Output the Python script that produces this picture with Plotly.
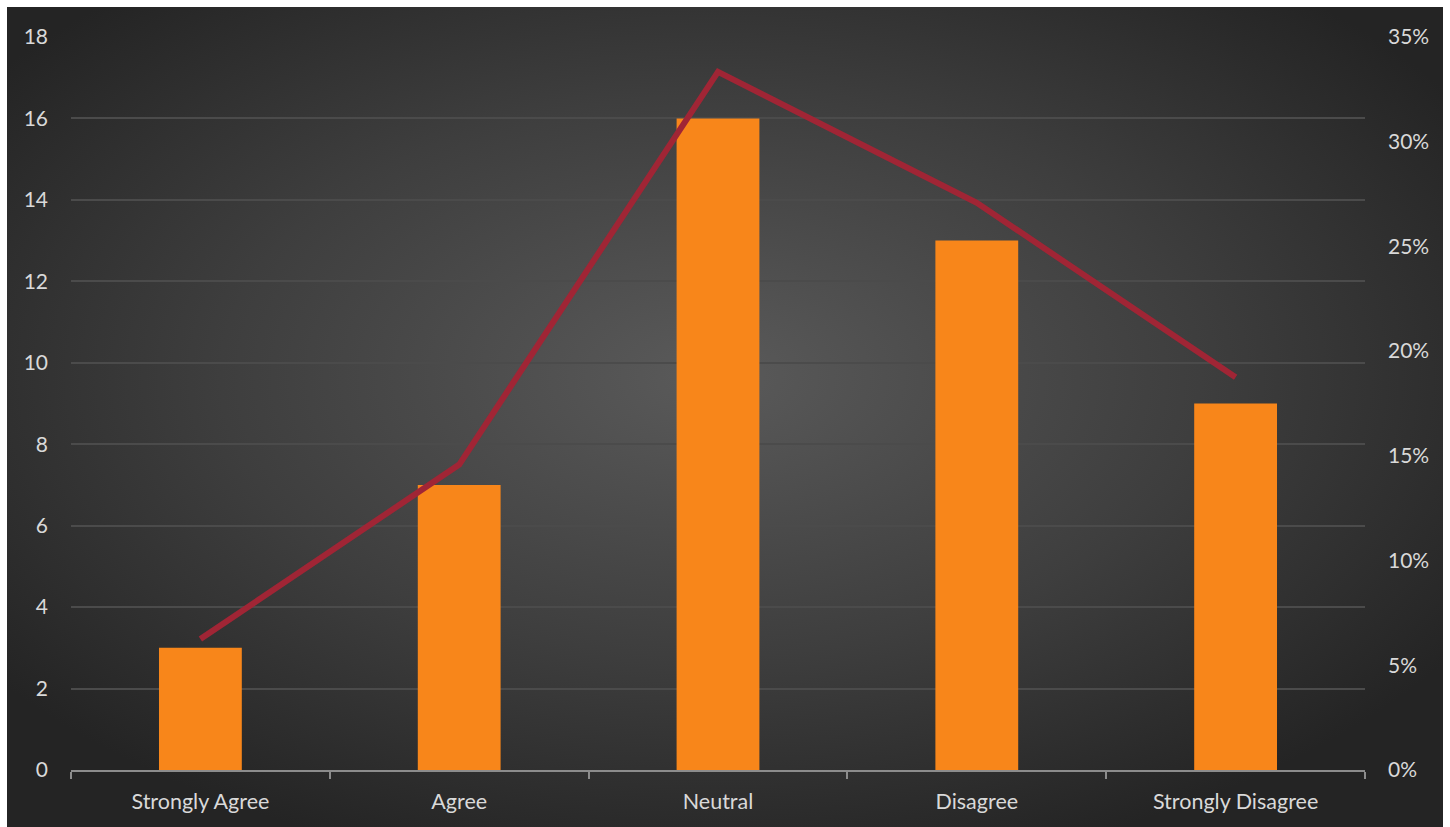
import base64
import plotly.graph_objects as go

categories = ["Strongly Agree", "Agree", "Neutral", "Disagree", "Strongly Disagree"]
counts = [3, 7, 16, 13, 9]
total = sum(counts)
percents = [c / total for c in counts]
left_ticks = [0, 2, 4, 6, 8, 10, 12, 14, 16, 18]
right_ticks = [0, 0.05, 0.10, 0.15, 0.20, 0.25, 0.30, 0.35]

W, H = 1450, 827
L, R, T, B = 71, 1365, 37, 770
pw, ph = R - L, B - T

svg = (
    '<svg xmlns="http://www.w3.org/2000/svg" width="1436" height="820" viewBox="0 0 1436 820" preserveAspectRatio="none">'
    '<defs><radialGradient id="g" cx="0.49" cy="0.45" r="0.62" gradientUnits="objectBoundingBox">'
    '<stop offset="0" stop-color="#5a5a5a"/><stop offset="0.55" stop-color="#3e3e3e"/>'
    '<stop offset="1" stop-color="#242424"/></radialGradient></defs>'
    '<rect width="1436" height="820" fill="url(#g)"/></svg>'
)
src = "data:image/svg+xml;base64," + base64.b64encode(svg.encode()).decode()

fig = go.Figure()
fig.add_trace(go.Bar(
    x=categories, y=counts, width=0.32,
    marker=dict(color="#F8861A", line=dict(width=0)),
    yaxis="y", name="Count",
))
fig.add_trace(go.Scatter(
    x=categories, y=percents, mode="lines",
    line=dict(color="#A02535", width=6),
    yaxis="y2", name="Percent",
))

fig.add_layout_image(dict(
    source=src, xref="paper", yref="paper",
    x=(7 - L) / pw, y=1 + (T - 7) / ph,
    sizex=1436 / pw, sizey=820 / ph,
    xanchor="left", yanchor="top", sizing="stretch", layer="below",
))

fig.update_layout(
    width=W, height=H,
    margin=dict(l=L, r=W - R, t=T, b=H - B, pad=0),
    paper_bgcolor="white", plot_bgcolor="rgba(0,0,0,0)",
    showlegend=False,
    font=dict(family="Lato, Open Sans, sans-serif", size=21, color="#D9D9D9"),
    xaxis=dict(
        showgrid=False, showline=True, linecolor="#8C8C8C", linewidth=2,
        ticks="outside", tickson="boundaries", ticklen=7, tickcolor="#8C8C8C", tickwidth=2,
        tickfont=dict(size=21.5, color="#D9D9D9"), zeroline=False, ticklabelstandoff=11,
    ),
    yaxis=dict(
        range=[0, 18], tickvals=left_ticks, showgrid=True, gridcolor="#4B4B4B", gridwidth=1.5,
        zeroline=False, showline=False, ticks="", ticklabelstandoff=22,
        tickfont=dict(size=21, color="#D9D9D9"),
    ),
    yaxis2=dict(
        range=[0, 0.35], tickvals=right_ticks, tickformat=".0%", overlaying="y", side="right",
        showgrid=False, zeroline=False, showline=False, ticks="", ticklabelstandoff=22,
        tickfont=dict(size=21, color="#D9D9D9"),
    ),
)

fig.write_html("out.html")
